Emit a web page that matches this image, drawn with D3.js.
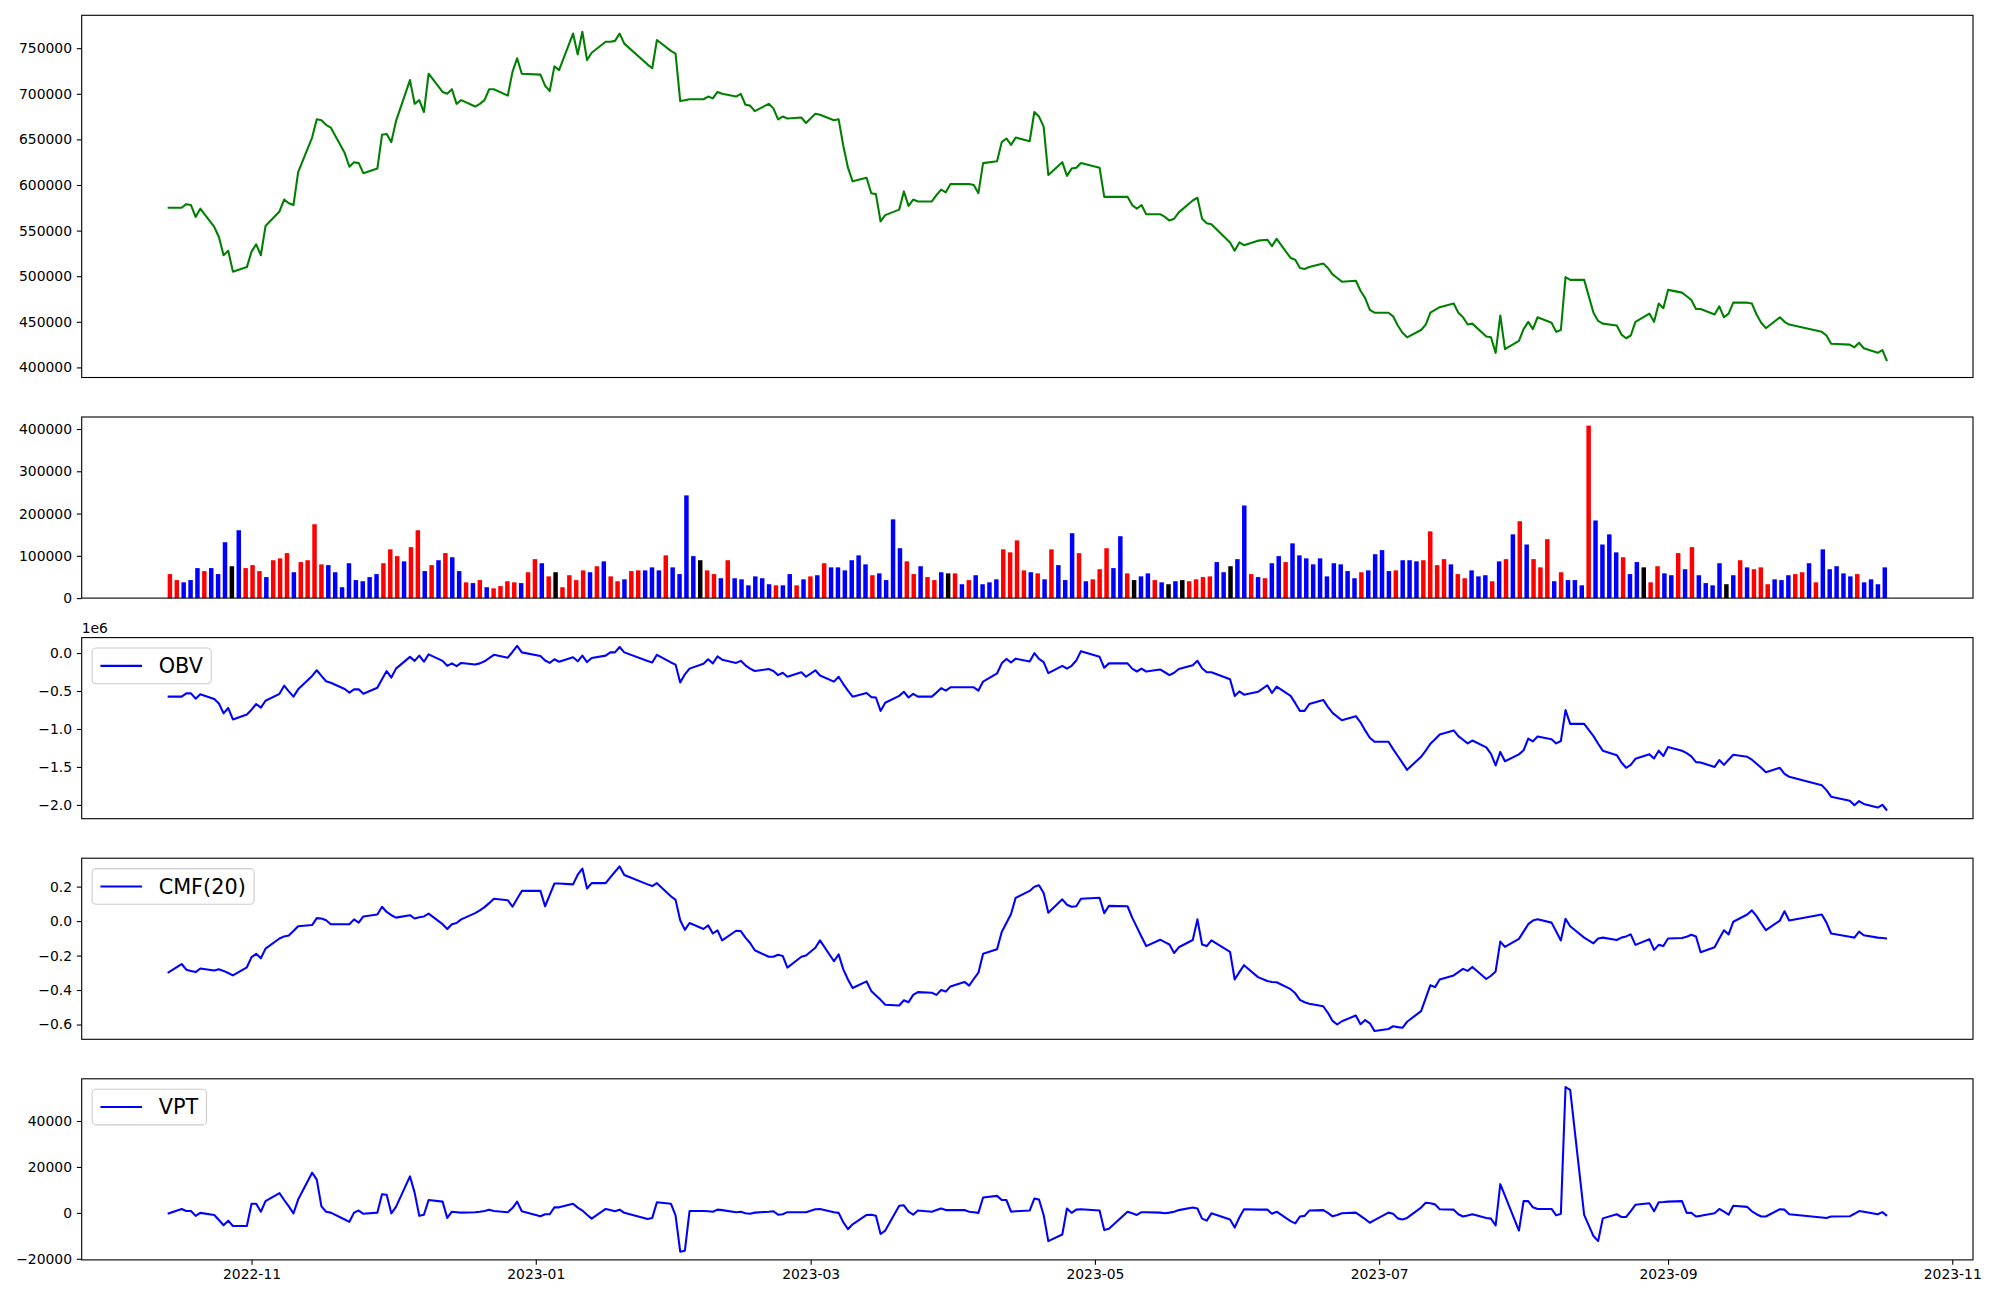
<!DOCTYPE html>
<html><head><meta charset="utf-8">
<script src="https://cdn.jsdelivr.net/npm/d3@7"></script>
<style>
body{margin:0;background:#fff;}
svg text{font-family:"DejaVu Sans",sans-serif;}
</style></head><body>
<svg id="chart" width="2000" height="1300"></svg>
<script>
// ---------- data ----------
const startDate = "2022-10-14", endDate = "2023-10-18";
const holidays = ["2022-12-30","2023-01-23","2023-01-24","2023-03-01","2023-05-01","2023-05-05","2023-05-29",
  "2023-06-06","2023-08-15","2023-09-28","2023-09-29","2023-10-02","2023-10-03","2023-10-09"];

const price = [
 575000,575000,579000,578000,565000,574000,554000,543000,523000,528000,505000,510000,
 527000,535000,523000,555000,571000,584000,580000,578000,614000,652000,672000,671000,666000,663000,635000,620000,625000,624000,613000,618000,655000,656000,
 647000,670000,715000,689000,693000,680000,722000,702000,700000,705000,689000,693000,686000,689000,693000,705000,705000,698000,724000,739000,722000,
 721000,709000,703000,730000,726000,766000,743000,768000,737000,745000,757000,757000,758000,766000,755000,732000,728000,759000,747000,744000,
 692000,693000,694000,694000,697000,695000,702000,700000,697000,700000,688000,687000,681000,689000,684000,672000,675000,673000,674000,668000,
 678000,677000,671000,672000,643000,619000,604000,608000,591000,590000,560000,567000,573000,593000,577000,584000,582000,582000,589000,595000,592000,601000,
 601000,601000,600000,591000,624000,626000,647000,651000,644000,652000,648000,680000,675000,664000,611000,625000,610000,618000,619000,624000,
 619000,587000,587000,587000,578000,574000,578000,568000,568000,565000,561000,563000,570000,583000,586000,563000,558000,557000,537000,528000,
 537000,534000,539000,540000,533000,541000,520000,518000,509000,508000,510000,514000,509000,502000,498000,494000,495000,484000,476000,463000,460000,
 460000,456000,446000,438000,433000,441000,447000,460000,463000,466000,470000,460000,455000,447000,448000,434000,433000,416000,457000,420000,429000,
 442000,450000,442000,455000,449000,439000,441000,499000,496000,496000,460000,451000,448000,446000,436000,432000,435000,450000,459000,450000,470000,465000,
 485000,482000,478000,474000,464000,464000,458000,467000,455000,459000,471000,471000,470000,458000,449000,443000,455000,450000,447000,
 439000,435000,426000,425000,422000,427000,421000,416000,419000,407000];

const volume = [
 56800,42600,37300,42600,71000,63900,71000,56800,132200,75400,
 160500,71000,78000,63900,49700,89600,94000,106400,61200,85200,
 89600,174700,79800,78000,61200,25700,82500,42600,39900,49700,
 56800,82500,115300,99300,86900,120600,160500,63900,78000,89600,
 106400,96700,63900,37300,35500,42600,25700,23100,28400,39900,
 37300,35500,61200,92200,82500,51400,61200,25700,54100,42600,
 65600,61200,75400,86900,51400,39900,44400,63900,65600,65600,
 72700,65600,101100,72700,56800,243000,99300,89600,65600,56800,
 47000,89600,47000,44400,30200,51400,47000,32800,30200,30200,
 56800,30200,44400,51400,54100,82500,72700,72700,65600,89600,
 101100,79800,54100,58500,42600,186300,118000,86900,56800,75400,
 49700,42600,61200,58500,58500,32800,42600,54100,32800,37300,
 44400,115300,108200,136600,65600,61200,58500,44400,115300,78000,
 42600,153500,106400,39900,44400,68300,118000,71000,146400,58500,
 42600,51400,58500,42600,37300,32800,39900,42600,39900,44400,
 49700,51400,85200,61200,75400,92200,219100,56800,49700,47000,
 82500,99300,85200,129500,101100,94000,79800,94000,51400,82500,
 79800,63900,47000,61200,65600,103800,113500,63900,65600,89600,
 89600,86900,89600,157900,78000,92200,79800,56800,47000,65600,
 51400,54100,39900,86900,92200,150800,181800,126800,92200,72700,
 139300,39900,61200,42600,42600,30200,408000,183600,126800,150800,
 108200,96700,56800,85200,72700,37300,75400,58500,54100,106400,
 68300,120600,54100,35500,30200,82500,32800,54100,89600,72700,
 68300,72700,32800,44400,42600,54100,56800,61200,82500,37300,
 115300,68300,75400,58500,51400,56800,37300,44400,32800,72700];

// candle direction of each volume bar (u = up, d = down, f = flat), ten bars per chunk
const candleDir = [
 "uudddudddf","duuuduuudu","uuuddddddd","duuuduudud","uddududuuu",
 "uduudufuuu","ududuuduud","dduddddfuu","duddddddud","dudududddd",
 "ddudddduud","uudfududdd","duuuududud","dduduuuddu","fddudfdfuu",
 "uuddfddudu","dduddddddd","ddduddddud","dduuuuduud","ddudududuu",
 "ududdduddd","duddfuuddu","duddddfdud","uuuddduudu","dddddudddd"].join("").split("");

const obv = [
 -574000,-574000,-531000,-531000,-601000,-542000,-606000,-665000,-794000,-724000,-874000,-810000,
 -746000,-671000,-719000,-628000,-537000,-430000,-505000,-574000,-478000,-301000,-227000,-301000,-371000,-392000,-473000,-521000,-478000,-478000,-537000,-457000,-344000,-237000,
 -323000,-205000,-50000,-103000,-34000,-114000,-18000,-103000,-168000,-136000,-173000,-130000,-152000,-136000,-109000,-66000,-23000,-61000,14000,95000,9000,
 -39000,-98000,-130000,-82000,-114000,-55000,-109000,-34000,-119000,-66000,-34000,9000,9000,79000,9000,-106000,-125000,-23000,-124000,-152000,
 -387000,-280000,-205000,-141000,-82000,-136000,-45000,-87000,-130000,-103000,-162000,-205000,-237000,-210000,-237000,-291000,-259000,-312000,-253000,-312000,
 -227000,-296000,-376000,-312000,-408000,-494000,-574000,-526000,-580000,-585000,-762000,-655000,-564000,-510000,-585000,-537000,-574000,-574000,-521000,-462000,-494000,-451000,
 -451000,-451000,-451000,-494000,-376000,-269000,-136000,-77000,-125000,-74000,-112000,-2000,-77000,-119000,-264000,-168000,-205000,-168000,-98000,25000,
 -50000,-194000,-136000,-136000,-205000,-243000,-205000,-243000,-216000,-253000,-291000,-259000,-210000,-162000,-103000,-200000,-253000,-253000,-344000,-564000,
 -505000,-548000,-510000,-424000,-526000,-441000,-564000,-660000,-762000,-762000,-671000,-617000,-708000,-788000,-837000,-885000,-831000,-912000,-1019000,-1115000,-1168000,
 -1168000,-1265000,-1356000,-1447000,-1538000,-1366000,-1286000,-1195000,-1136000,-1072000,-1019000,-1094000,-1142000,-1190000,-1152000,-1243000,-1329000,-1479000,-1302000,-1425000,-1334000,
 -1281000,-1126000,-1163000,-1099000,-1136000,-1190000,-1158000,-751000,-933000,-933000,-1094000,-1195000,-1286000,-1345000,-1441000,-1511000,-1473000,-1393000,-1334000,-1388000,-1286000,-1356000,
 -1238000,-1286000,-1318000,-1361000,-1436000,-1441000,-1500000,-1409000,-1473000,-1404000,-1340000,-1366000,-1404000,-1457000,-1511000,-1570000,-1511000,-1591000,-1629000,
 -1741000,-1805000,-1891000,-1945000,-2004000,-1950000,-1987000,-2035000,-1998000,-2073000];

const cmf = [
 -0.301,-0.249,-0.282,-0.289,-0.296,-0.275,-0.287,-0.280,-0.289,-0.301,-0.315,-0.268,
 -0.209,-0.190,-0.216,-0.160,-0.101,-0.089,-0.084,-0.058,-0.030,-0.023,0.017,0.015,0.005,-0.018,-0.018,-0.018,0.010,-0.009,0.027,0.038,0.083,0.053,
 0.034,0.020,0.034,0.015,0.022,0.027,0.043,-0.018,-0.046,-0.018,-0.011,0.010,0.046,0.062,0.081,0.104,0.130,0.121,0.083,0.130,0.175,
 0.175,0.086,0.152,0.218,0.218,0.213,0.269,0.305,0.189,0.220,0.220,0.253,0.286,0.317,0.267,0.213,0.203,0.220,0.144,0.123,
 0.005,-0.051,-0.011,-0.046,-0.025,-0.072,-0.054,-0.112,-0.056,-0.058,-0.096,-0.127,-0.169,-0.207,-0.207,-0.195,-0.202,-0.270,-0.207,-0.200,
 -0.155,-0.112,-0.233,-0.193,-0.280,-0.339,-0.388,-0.350,-0.405,-0.431,-0.457,-0.485,-0.490,-0.459,-0.471,-0.428,-0.412,-0.416,-0.428,-0.400,-0.409,-0.379,
 -0.353,-0.374,-0.336,-0.299,-0.190,-0.164,-0.063,-0.011,0.041,0.135,0.175,0.199,0.208,0.163,0.048,0.126,0.095,0.083,0.086,0.130,
 0.135,0.046,0.088,0.086,0.020,-0.035,-0.091,-0.145,-0.108,-0.122,-0.136,-0.185,-0.152,-0.110,0.010,-0.136,-0.145,-0.112,-0.178,-0.339,
 -0.296,-0.256,-0.325,-0.348,-0.353,-0.355,-0.395,-0.419,-0.457,-0.471,-0.480,-0.494,-0.532,-0.579,-0.600,-0.581,-0.548,-0.598,-0.574,-0.593,-0.638,
 -0.626,-0.610,-0.615,-0.619,-0.584,-0.522,-0.447,-0.372,-0.383,-0.339,-0.315,-0.296,-0.277,-0.289,-0.266,-0.336,-0.317,-0.292,-0.119,-0.150,-0.103,
 -0.061,-0.018,0.003,0.010,-0.009,-0.061,-0.112,0.013,-0.030,-0.096,-0.129,-0.101,-0.096,-0.110,-0.096,-0.089,-0.077,-0.138,-0.105,-0.167,-0.138,-0.145,
 -0.101,-0.098,-0.091,-0.079,-0.089,-0.181,-0.152,-0.101,-0.053,-0.077,-0.004,0.038,0.062,0.029,-0.013,-0.053,0.003,0.057,0.003,
 0.038,-0.009,-0.072,-0.091,-0.096,-0.061,-0.082,-0.096,-0.098,-0.101];

const vpt = [
 -400,1700,800,800,-1300,0,-900,-3100,-5400,-3400,-5700,-5700,
 4000,4000,500,5100,8600,5600,2800,-200,5800,17500,14500,2800,500,100,-2900,-3900,100,1000,-400,100,8100,7900,
 -200,2600,15900,8800,-1300,-800,5600,4900,-2200,500,300,100,300,500,800,1400,800,300,2100,4900,700,
 -1500,-600,-600,2400,2400,4000,2300,1000,-800,-2500,1700,1200,700,1400,0,-2700,-2200,4600,4000,-1100,
 -16900,-16500,800,800,700,500,1400,1200,300,500,-200,-400,100,500,700,-800,-600,300,300,300,
 1600,1700,300,0,-4100,-7100,-5000,-900,-800,-1300,-9200,-7700,3100,3300,500,-800,1000,500,1200,1900,1200,1200,
 1200,500,300,0,6700,7400,5600,5600,500,700,1000,6200,5800,-900,-12300,-9400,1900,0,1400,1600,
 1000,-7500,-6900,500,-200,-900,300,300,100,-200,100,500,1200,2300,1900,-2500,-3400,-200,-2900,-6400,
 -2000,1600,1400,1400,-400,500,-3600,-4600,-1600,-1300,1000,1200,0,-1500,-900,-200,100,-1300,-2700,-4300,-3200,
 100,-400,-2400,-2900,-2200,2300,4400,4200,3700,1600,1400,-600,-1600,-1100,-600,-2200,-2500,-5500,12500,7500,-7700,
 5100,5100,2400,1700,1700,-1100,-400,54800,53600,-900,-10100,-12300,-2400,-600,-1800,-1800,800,3500,4200,700,4600,4700,
 4900,5100,0,0,-1600,-1300,-200,1700,500,-800,3100,2600,700,-600,-1600,-1600,1600,1400,-600,
 -2000,-2200,-1600,-1500,-400,800,500,-600,300,-1300];

const priceTicks = [400000,450000,500000,550000,600000,650000,700000,750000];
const volumeTicks = [0,100000,200000,300000,400000];
const obvTicks = [-2000000,-1500000,-1000000,-500000,0];
const cmfTicks = [-0.6,-0.4,-0.2,0.0,0.2];
const vptTicks = [-20000,0,20000,40000];
const xTickLabels = ["2022-11","2023-01","2023-03","2023-05","2023-07","2023-09","2023-11"];
const legendLabels = {obv:"OBV", cmf:"CMF(20)", vpt:"VPT"};

// ---------- layout ----------
const svg = d3.select("#chart");
const L = 81.7, R = 1973;
const P = {price:[15.3,377.5], vol:[417,598.1], obv:[637.6,818.7], cmf:[858.2,1039.3], vpt:[1078.8,1259.9]};
const TICK = 4.86, TPAD = 4.86, FS = 13.9, LW = 2.08;
const dirColor = d3.scaleOrdinal().domain(["u","d","f"]).range(["#ff0000","#0000ff","#000000"]);

const parseDay = d3.utcParse("%Y-%m-%d"), fmtDay = d3.utcFormat("%Y-%m-%d");
const hol = new Set(holidays);
const dates = d3.utcDays(parseDay(startDate), d3.utcDay.offset(parseDay(endDate), 1))
  .filter(d => d.getUTCDay() % 6 !== 0 && !hol.has(fmtDay(d)));
if (dates.length !== price.length) console.warn("length mismatch", dates.length, price.length);

const t0 = +dates[0], t1 = +dates[dates.length - 1], span = t1 - t0;
const x = d3.scaleUtc().domain([new Date(t0 - 0.05 * span), new Date(t1 + 0.05 * span)]).range([L, R]);

function padExtent(a){ const [lo, hi] = d3.extent(a); const s = hi - lo; return [lo - 0.05 * s, hi + 0.05 * s]; }
const minus = s => s.replace(/-/g, "\u2212");

function yAxis(y, ticks, fmt){
  const g = svg.append("g").attr("transform", `translate(${L},0)`)
    .call(d3.axisLeft(y).tickValues(ticks).tickFormat(fmt).tickSize(TICK).tickPadding(TPAD));
  g.attr("font-family", "DejaVu Sans").attr("font-size", FS);
  g.select(".domain").remove();
  g.selectAll(".tick line").attr("stroke", "#000").attr("stroke-width", 1.1);
  g.selectAll(".tick text").attr("fill", "#000");
}
function frame(p){
  svg.append("rect").attr("x", L).attr("y", p[0]).attr("width", R - L).attr("height", p[1] - p[0])
    .attr("fill", "none").attr("stroke", "#000").attr("stroke-width", 1.1);
}
function lineChart(values, p, color){
  const y = d3.scaleLinear().domain(padExtent(values)).range([p[1], p[0]]);
  svg.append("path").datum(values)
    .attr("d", d3.line().x((d, i) => x(dates[i])).y(d => y(d)))
    .attr("fill", "none").attr("stroke", color).attr("stroke-width", LW).attr("stroke-linejoin", "round");
  return y;
}
function legend(p, label){
  const fs = 20.8, bx = L + 10.4, by = p[0] + 10.4, bp = 0.4 * fs, h = 35.7;
  const g = svg.append("g");
  const rect = g.append("rect");
  const t = g.append("text").attr("x", bx + bp + 2 * fs + 0.8 * fs).attr("y", by + h / 2).attr("dy", "0.35em")
    .attr("font-size", fs).attr("fill", "#000").text(label);
  const tw = t.node().getComputedTextLength();
  rect.attr("x", bx).attr("y", by).attr("width", bp + 2 * fs + 0.8 * fs + tw + bp).attr("height", h)
    .attr("rx", 4).attr("fill", "#fff").attr("fill-opacity", 0.8).attr("stroke", "#cccccc").attr("stroke-width", 1.1);
  g.append("line").attr("x1", bx + bp).attr("x2", bx + bp + 2 * fs).attr("y1", by + h / 2).attr("y2", by + h / 2)
    .attr("stroke", "#0000ff").attr("stroke-width", LW);
}

// ---------- price ----------
const yP = lineChart(price, P.price, "#008000");
yAxis(yP, priceTicks, d => String(d));
frame(P.price);

// ---------- volume ----------
const n = volume.length, bw = 0.65;
const xi = d3.scaleLinear()
  .domain([-bw / 2 - 0.05 * (n - 1 + bw), n - 1 + bw / 2 + 0.05 * (n - 1 + bw)]).range([L, R]);
const yV = d3.scaleLinear().domain([0, d3.max(volume) * 1.05]).range([P.vol[1], P.vol[0]]);
svg.append("g").selectAll("rect").data(volume).join("rect")
  .attr("x", (d, i) => xi(i - bw / 2)).attr("width", xi(bw) - xi(0))
  .attr("y", d => yV(d)).attr("height", d => yV(0) - yV(d))
  .attr("fill", (d, i) => dirColor(candleDir[i]));
yAxis(yV, volumeTicks, d => String(d));
frame(P.vol);

// ---------- OBV ----------
const yO = lineChart(obv, P.obv, "#0000ff");
yAxis(yO, obvTicks, d => minus((d / 1e6).toFixed(1)));
svg.append("text").attr("x", L).attr("y", P.obv[0] - 5).attr("font-size", FS).attr("fill", "#000").text("1e6");
legend(P.obv, legendLabels.obv);
frame(P.obv);

// ---------- CMF ----------
const yC = lineChart(cmf, P.cmf, "#0000ff");
yAxis(yC, cmfTicks, d => minus(d.toFixed(1)));
legend(P.cmf, legendLabels.cmf);
frame(P.cmf);

// ---------- VPT ----------
const yT = lineChart(vpt, P.vpt, "#0000ff");
yAxis(yT, vptTicks, d => minus(String(d)));
legend(P.vpt, legendLabels.vpt);
frame(P.vpt);

// ---------- shared date axis ----------
const parseMonth = d3.utcParse("%Y-%m");
const gx = svg.append("g").attr("transform", `translate(0,${P.vpt[1]})`)
  .call(d3.axisBottom(x).tickValues(xTickLabels.map(parseMonth)).tickFormat(d3.utcFormat("%Y-%m"))
    .tickSize(TICK).tickPadding(TPAD));
gx.attr("font-family", "DejaVu Sans").attr("font-size", FS);
gx.select(".domain").remove();
gx.selectAll(".tick line").attr("stroke", "#000").attr("stroke-width", 1.1);
gx.selectAll(".tick text").attr("fill", "#000");
</script>
</body></html>
